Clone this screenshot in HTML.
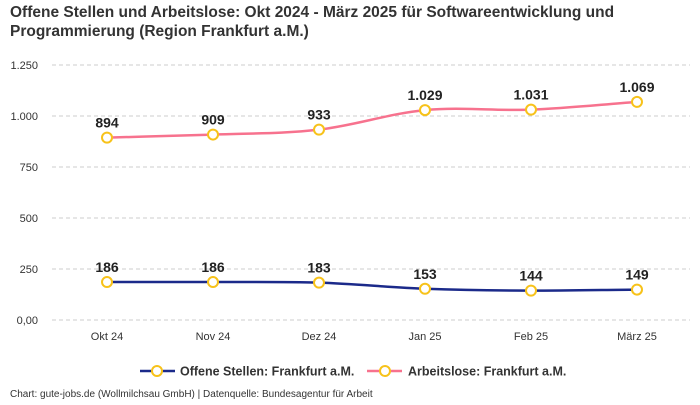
<!DOCTYPE html>
<html><head><meta charset="utf-8"><style>
body{margin:0;background:#fff;font-family:"Liberation Sans",sans-serif;}
svg text{font-family:"Liberation Sans",sans-serif;}
</style></head><body>
<svg id="c" width="700" height="400" viewBox="0 0 700 400">
<text x="10" y="17" font-size="15.5" font-weight="bold" fill="#333">Offene Stellen und Arbeitslose: Okt 2024 - März 2025 für Softwareentwicklung und</text>
<text x="10" y="36" font-size="15.5" font-weight="bold" fill="#333">Programmierung (Region Frankfurt a.M.)</text>
<g id="grid"></g><g id="series"></g>
<g>
<g>
<line x1="140" y1="371" x2="175" y2="371" stroke="#1b2a8a" stroke-width="2.5"/>
<circle cx="157" cy="371" r="5" fill="#fff" stroke="#f7c21a" stroke-width="2"/>
<text x="180" y="375.5" font-size="12.5" font-weight="bold" fill="#333">Offene Stellen: Frankfurt a.M.</text></g>
<g>
<line x1="367" y1="371" x2="402" y2="371" stroke="#f7728e" stroke-width="2.5"/>
<circle cx="385" cy="371" r="5" fill="#fff" stroke="#f7c21a" stroke-width="2"/>
<text x="408" y="375.5" font-size="12.5" font-weight="bold" fill="#333">Arbeitslose: Frankfurt a.M.</text></g>
</g>
<text x="10" y="397" font-size="10" fill="#333">Chart: gute-jobs.de (Wollmilchsau GmbH) | Datenquelle: Bundesagentur für Arbeit</text>
</svg>
<script>
const categories=["Okt 24","Nov 24","Dez 24","Jan 25","Feb 25","März 25"];
const offeneStellen=[186,186,183,153,144,149];
const arbeitslose=[894,909,933,1029,1031,1069];
const yTicks=[0,250,500,750,1000,1250];
const yTickLabels=["0,00","250","500","750","1.000","1.250"];
const NS="http://www.w3.org/2000/svg";
const x=i=>107+i*106;
const y=v=>320-v*51/250;
function mk(t,a,p){const e=document.createElementNS(NS,t);for(const k in a)e.setAttribute(k,a[k]);p.appendChild(e);return e;}
const g=document.getElementById('grid'),s=document.getElementById('series');
yTicks.forEach((v,i)=>{
 const l=mk('line',{x1:52,x2:690,y1:y(v),y2:y(v),stroke:'#ccc','stroke-dasharray':'4,3'},g);
 
 
 const t=mk('text',{x:38,y:y(v)+4,'font-size':11,'text-anchor':'end',fill:'#333'},g);t.textContent=yTickLabels[i];
 
 
});
categories.forEach((c,i)=>{
 const t=mk('text',{x:x(i),y:340,'font-size':11,'text-anchor':'middle',fill:'#333'},g);t.textContent=c;
 
 
});
function monotone(pts){
 const n=pts.length,d=[],m=[];
 for(let i=0;i<n-1;i++)d.push((pts[i+1][1]-pts[i][1])/(pts[i+1][0]-pts[i][0]));
 for(let i=0;i<n;i++){if(i==0)m.push(d[0]);else if(i==n-1)m.push(d[n-2]);else m.push(d[i-1]*d[i]<=0?0:(d[i-1]+d[i])/2);}
 let p=`M${pts[0][0]},${pts[0][1]}`;
 for(let i=0;i<n-1;i++){const h=(pts[i+1][0]-pts[i][0])/3;
 p+=` C${pts[i][0]+h},${pts[i][1]+m[i]*h} ${pts[i+1][0]-h},${pts[i+1][1]-m[i+1]*h} ${pts[i+1][0]},${pts[i+1][1]}`;}
 return p;}
function draw(vals,color,name){
 const pts=vals.map((v,i)=>[x(i),y(v)]);
 const p=mk('path',{d:monotone(pts),fill:'none',stroke:color,'stroke-width':2.5},s);
 
 
 vals.forEach((v,i)=>{
  const c=mk('circle',{cx:x(i),cy:y(v),r:5,fill:'#fff',stroke:'#f7c21a','stroke-width':2},s);
  
  
  const t=mk('text',{x:x(i),y:y(v)-10,'font-size':14,'font-weight':'bold','text-anchor':'middle',fill:'#222'},s);
  t.textContent=v.toLocaleString('de-DE');
  
  
 });}
draw(arbeitslose,'#f7728e','arbeitslose');
draw(offeneStellen,'#1b2a8a','offene-stellen');
</script>
</body></html>
